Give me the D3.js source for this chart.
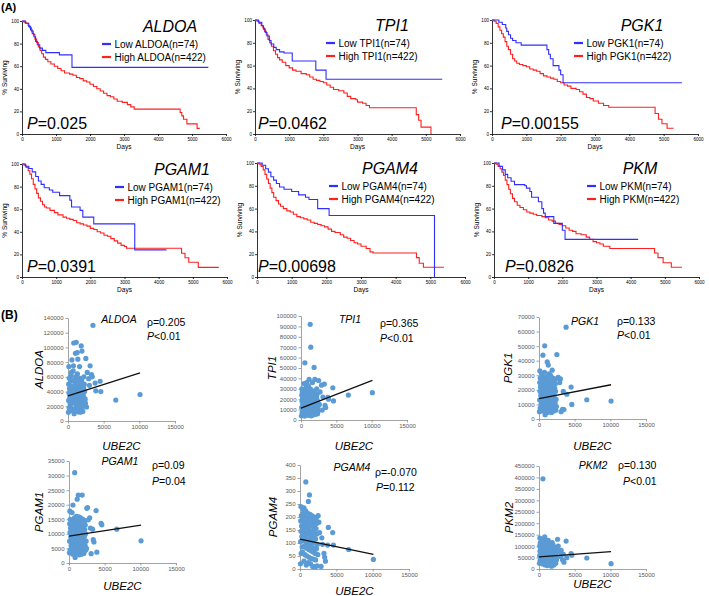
<!DOCTYPE html>
<html><head><meta charset="utf-8">
<script src="https://cdnjs.cloudflare.com/ajax/libs/d3/7.8.5/d3.min.js"></script>
<style>body{margin:0;background:#fff;} svg{display:block;font-family:"Liberation Sans",Arial,sans-serif;}</style>
</head><body><svg id="c" width="709" height="596"></svg>
<script>
// ---------------- DATA: Kaplan-Meier (A) ----------------
const kmGenes = ["ALDOA","TPI1","PGK1","PGAM1","PGAM4","PKM"];
const kmPValues = ["0.025","0.0462","0.00155","0.0391","0.00698","0.0826"];
const kmLowN = 74, kmHighN = 422;
const kmDayTicks = [0,1000,2000,3000,4000,5000,6000];
const kmSurvTicks = [0,20,40,60,80,100];

const lowALDOA = [[0,100],[100,98],[200,95],[250,92],[300,89],[350,86],[400,82],[450,79],[520,76],[600,74],[700,72],[1100,70],[1470,59],[5480,59]];
const highALDOA = [[0,100],[60,99],[120,98],[180,96],[230,94],[280,91],[330,88],[380,84],[430,81],[480,77],[530,74],[580,71],[630,68],[690,66],[760,64],[850,62],[950,60],[1050,58],[1150,56],[1250,54],[1400,53],[1500,52],[1600,50],[1700,49],[1800,47],[1900,46],[2000,44],[2100,42],[2200,40],[2300,38],[2400,36],[2500,34],[2600,33],[2700,31],[2800,29],[2950,28],[3100,26],[3200,24],[3300,22],[4650,19],[4700,16],[4750,13],[4850,9],[5150,5],[5230,5]];

const lowTPI1 = [[0,100],[100,98],[200,95],[250,92],[300,89],[350,86],[420,82],[470,79],[550,76],[620,74],[720,72],[850,71],[1090,64],[1780,56],[2080,48],[5480,48]];
const highTPI1 = [[0,100],[60,99],[120,97],[180,95],[230,93],[280,90],[330,87],[380,83],[430,80],[480,77],[540,73],[600,70],[660,67],[720,65],[800,63],[900,60],[1000,58],[1100,56],[1200,55],[1350,53],[1500,52],[1600,50],[1700,48],[1800,47],[1900,46],[2000,45],[2100,43],[2200,41],[2300,39],[2450,38],[2600,36],[2700,33],[2800,31],[2950,30],[3000,28],[3150,27],[3250,25],[3350,23],[4720,17],[4790,12],[4860,6],[5150,0]];

const lowPGK1 = [[0,100],[200,98],[300,96],[400,93],[430,90],[480,87],[540,84],[600,82],[700,80],[850,78],[1600,74],[1650,70],[1700,66],[1780,60],[1950,56],[2000,52],[2070,45],[5530,45]];
const highPGK1 = [[0,100],[60,99],[120,97],[180,94],[230,91],[280,88],[330,85],[380,81],[430,77],[480,74],[540,70],[600,66],[660,64],[720,62],[800,61],[900,60],[1000,59],[1100,57],[1200,56],[1300,55],[1400,53],[1500,51],[1600,50],[1700,49],[1800,48],[1900,46],[2000,45],[2100,43],[2200,42],[2300,40],[2450,39],[2550,37],[2650,35],[2750,32],[2850,31],[2950,29],[3100,27],[3250,25],[3400,23.5],[4750,18],[4850,13],[4950,9],[5100,5],[5290,5]];

const lowPGAM1 = [[0,100],[100,98],[200,96],[300,93],[400,89],[480,85],[560,82],[650,79],[800,77],[900,75],[1100,72],[1400,68],[1450,62],[1700,59],[1780,53],[2100,47],[3300,24],[4230,24]];
const highPGAM1 = [[0,100],[60,99],[120,97],[180,94],[230,91],[280,87],[330,82],[380,78],[430,74],[480,70],[540,67],[600,64],[660,62],[720,61],[820,59],[950,57],[1050,55],[1200,53],[1300,52],[1400,51],[1500,50],[1600,48],[1700,47],[1800,46],[1900,45],[2000,43],[2100,42],[2200,40],[2300,39],[2400,37],[2500,36],[2600,34],[2700,32],[2800,30],[2900,28],[3000,27],[3060,25.5],[4670,21],[4770,17],[4880,13],[5160,8.5],[5760,8.5]];

const lowPGAM4 = [[0,100],[150,98],[250,95],[330,92],[400,88],[480,85],[560,82],[650,79],[780,77],[1000,75],[1200,72],[1400,70],[1500,68],[1750,60],[2080,54],[5120,0]];
const highPGAM4 = [[0,100],[60,99],[120,97],[180,94],[230,90],[280,86],[330,82],[380,78],[430,74],[480,70],[550,67],[620,64],[680,62],[760,60],[860,58],[960,57],[1050,55],[1150,53],[1250,52],[1350,51],[1450,50],[1550,48],[1650,47],[1750,46],[1850,45],[1950,44],[2050,42],[2150,40],[2250,39],[2400,37],[2500,35],[2600,34],[2700,32],[2800,30],[2900,29],[3000,27],[3150,25],[3260,22],[3350,21],[4600,17],[4680,12],[4800,8.5],[5390,8.5]];

const lowPKM = [[0,100],[150,97],[250,94],[330,90],[400,87],[500,84],[600,81],[900,80],[950,78],[1050,75],[1100,70],[1300,66],[1400,60],[1450,56],[1500,53],[1750,47],[2000,41],[2080,33],[4220,33]];
const highPKM = [[0,100],[60,99],[120,97],[180,95],[230,92],[280,89],[330,85],[380,81],[430,77],[480,73],[540,69],[600,66],[680,63],[760,61],[860,59],[960,57],[1050,56],[1150,55],[1250,54],[1400,53],[1500,52],[1600,50],[1700,49],[1800,47],[1900,46],[2000,45],[2100,43],[2200,41],[2300,40],[2400,38],[2550,37],[2700,35],[2800,33],[2900,31],[3000,30],[3100,29],[3200,27],[3390,25],[4700,21],[4800,17],[4950,12.5],[5190,8.5],[5500,8.5]];

const kmLow = [lowALDOA, lowTPI1, lowPGK1, lowPGAM1, lowPGAM4, lowPKM];
const kmHigh = [highALDOA, highTPI1, highPGK1, highPGAM1, highPGAM4, highPKM];

// ---------------- DATA: correlations (B) ----------------
const scGenes = ["ALDOA","TPI1","PGK1","PGAM1","PGAM4","PKM2"];
const scRho = ["0.205","0.365","0.133","0.09","-0.070","0.130"];
const scP = ["<0.01","<0.01","<0.01","=0.04","=0.112","<0.01"];
const ubeTicks = [0,5000,10000,15000];
const aldoaTicks = [0,20000,40000,60000,80000,100000,120000,140000];
const tpi1Ticks = [0,10000,20000,30000,40000,50000,60000,70000,80000,90000,100000];
const pgk1Ticks = [0,10000,20000,30000,40000,50000,60000,70000];
const pgam1Ticks = [0,5000,10000,15000,20000,25000,30000,35000];
const pgam4Ticks = [0,50,100,150,200,250,300,350,400];
const pkm2Ticks = [0,50000,100000,150000,200000,250000,300000,350000,400000,450000];

// UBE2C expression (shared x for all six panels)
const ubeX = [
120,430,760,1040,1380,1620,1960,2230,
180,470,720,1080,1320,1680,1910,2280,
100,410,790,1010,1360,1700,1990,2200,
210,500,740,1100,1300,1600,1940,2320,
140,380,810,1060,1400,1650,2020,2150,
250,520,700,980,1330,1720,1880,2400,
90,460,830,1120,1420,1580,2050,2260,
300,600,900,1200,1500,1800,2100,2450,
160,350,680,950,1250,1550,1850,2150,
60,540,860,1150,1450,1750,2080,2350,
2600,2700,2900,3000,3100,3300,3400,3500,3800,3900,
4500,4600,6700,10100,550,800,1150,1300,1850,2500];

const aldoaY = [
74000,62000,75000,92000,84000,74000,95000,60000,
58000,66000,68000,60000,64000,58000,55000,50000,
50000,54000,56000,52000,55000,50000,48000,45000,
44000,47000,46000,48000,44000,45000,42000,40000,
38000,40000,41000,42000,39000,38000,37000,35000,
33000,35000,34000,36000,33000,34000,31000,30000,
28000,30000,29000,30000,28000,27000,26000,25000,
23000,25000,24000,22000,21000,22000,20000,24000,
18000,19000,15000,17000,16000,13000,17000,21000,
12000,14000,10000,13000,12500,12000,13000,28000,
19000,66000,57500,48500,75000,63000,60000,130000,51500,41000,
54000,40000,28500,36000,83000,106000,107000,93000,102000,85000];

const tpi1Y = [
30000,35000,32000,33000,70000,36000,39000,30000,
27000,29000,30000,28000,30000,28000,27000,25000,
24000,26000,25000,26000,25000,24000,23000,22000,
21000,22000,23000,22000,21000,21000,20000,19000,
18000,19000,20000,19000,18000,17000,17000,16000,
15000,16000,17000,16000,15000,15000,14000,13000,
12000,13000,14000,13000,12000,12000,11000,11000,
9500,10000,11000,10000,9000,9500,8500,9000,
7000,7500,8000,7000,6500,7000,6000,7500,
4000,3800,5000,4500,4000,5000,5500,6000,
15000,27000,33500,9500,22000,34500,14000,12000,21800,20000,
31000,18300,24000,26300,55000,36000,39000,92000,50600,38000];

const pgk1Y = [
33000,31000,32000,29000,31000,30000,28000,27000,
28000,28500,27000,27500,27000,26000,25000,24000,
25000,25500,24500,25000,24000,23000,22000,21000,
22000,22500,21500,22000,21000,20000,19500,19000,
19000,19500,19000,18500,18000,17000,17000,16000,
16000,16500,16000,15500,15000,14500,14000,13500,
13000,13500,13000,12500,12000,12000,11500,11000,
10000,10500,10000,9500,9000,9500,9000,8500,
7500,8000,7500,7000,6500,6500,6000,7000,
5000,5500,3000,4500,5000,4500,5500,6000,
28000,28500,25000,27500,5000,6600,18900,6500,63000,17000,
21900,10000,13200,12300,43800,50200,39200,37000,33500,44200];

const pgam1Y = [
17800,17300,15500,16000,15800,15500,15000,14500,
15000,14500,14800,14000,14500,13500,13500,13000,
13500,13000,13200,12500,13000,12000,12500,11500,
12000,11500,11800,11000,11500,10500,11000,10000,
10500,10000,10300,9500,10000,9000,9500,9000,
9000,8500,8800,8000,8500,7500,8000,7500,
7500,7000,7300,6500,7000,6200,6500,6000,
6000,5500,5800,5000,5500,4800,5000,5000,
4500,4000,4300,3500,4000,3500,3800,4000,
3500,3000,1900,3200,2800,3000,3300,4500,
19000,14800,15500,12000,3200,11600,8000,7200,18000,3700,
13600,13100,11600,7600,19900,31000,21900,23300,23300,18750];

const pgam4Y = [
240,230,225,215,210,205,200,195,
205,215,200,195,190,185,180,175,
185,190,180,175,170,165,160,155,
165,170,160,155,150,145,140,135,
145,150,140,135,130,125,120,115,
125,130,120,115,110,105,100,95,
105,110,100,95,90,85,80,78,
85,88,80,75,70,65,60,55,
60,65,55,50,45,40,38,35,
20,30,15,25,20,10,8,12,
180,140,10,120,95,60,45,30,92,160,
140,92,75,37,235,335,260,285,200,205];

const pkm2Y = [
135000,130000,120000,125000,110000,100000,105000,95000,
115000,110000,105000,100000,95000,90000,88000,85000,
100000,95000,92000,88000,85000,80000,78000,75000,
88000,85000,82000,78000,75000,72000,70000,68000,
78000,75000,72000,70000,68000,65000,62000,60000,
68000,66000,63000,61000,58000,56000,55000,52000,
58000,56000,54000,52000,50000,48000,46000,45000,
48000,46000,44000,42000,40000,38000,37000,40000,
38000,36000,34000,32000,30000,28000,27000,30000,
25000,22000,18000,15000,20000,12000,18000,25000,
130000,100000,75000,55000,81500,40000,65000,30000,122000,49500,
67000,60000,48000,23300,394000,140000,110000,125000,115000,90000];

const scY = [aldoaY, tpi1Y, pgk1Y, pgam1Y, pgam4Y, pkm2Y];
const scTicks = [aldoaTicks, tpi1Ticks, pgk1Ticks, pgam1Ticks, pgam4Ticks, pkm2Ticks];
// regression line: fitted value at UBE2C = 0 and at UBE2C = 10100
const fitX = [0, 10100];
const fitY = [[34000,65500],[11500,38000],[14000,23500],[9200,13000],[115,56],[53000,76000]];

// ---------------- LAYOUT ----------------
const kmLayout = [
 {x0:22,x1:226,yTop:21,yBot:134,titleX:170,legX:102,pX:27},
 {x0:255,x1:460,yTop:20,yBot:134,titleX:392,legX:326,pX:258},
 {x0:492,x1:698,yTop:20,yBot:134,titleX:642,legX:574,pX:501},
 {x0:22,x1:227,yTop:164,yBot:277,titleX:182,legX:115,pX:27},
 {x0:257,x1:465,yTop:163,yBot:277,titleX:390,legX:329,pX:258},
 {x0:494,x1:699,yTop:163,yBot:277,titleX:640,legX:587,pX:505}
];
const scLayout = [
 {x0:68,x1:175,yTop:318,yBot:421,titleX:119,titleY:323,rhoX:147,rhoY:326,pX:147,pY:340,ylabX:39,xlabY:450},
 {x0:301,x1:407,yTop:316,yBot:420,titleX:350,titleY:323,rhoX:380,rhoY:327,pX:380,pY:342,ylabX:272,xlabY:450},
 {x0:539,x1:646,yTop:317,yBot:419,titleX:585,titleY:325,rhoX:617,rhoY:325,pX:617,pY:339,ylabX:508,xlabY:450},
 {x0:69,x1:176,yTop:461,yBot:563,titleX:120,titleY:465,rhoX:152,rhoY:469,pX:152,pY:485,ylabX:39,xlabY:590},
 {x0:300,x1:409,yTop:465,yBot:569,titleX:352,titleY:471,rhoX:375,rhoY:476,pX:376,pY:491,ylabX:273,xlabY:595},
 {x0:539,x1:646,yTop:466,yBot:569,titleX:593,titleY:469,rhoX:618,rhoY:469,pX:623,pY:485,ylabX:509,xlabY:588}
];

const BLUE = "#2f2fff", RED = "#ff2020", DOT = "#5b9bd5";
const plain = d3.format("d");
const svg = d3.select("#c");

// panel letters
svg.append("text").attr("x",1).attr("y",11).attr("font-size",11).attr("font-weight","bold").text("(A)");
svg.append("text").attr("x",1).attr("y",319).attr("font-size",12).attr("font-weight","bold").text("(B)");

// ---------------- KM panels ----------------
kmGenes.forEach((gene, i) => {
  const L = kmLayout[i];
  const x = d3.scaleLinear().domain([0,6000]).range([L.x0, L.x1]);
  const y = d3.scaleLinear().domain([0,100]).range([L.yBot, L.yTop]);
  const g = svg.append("g");
  const ax = g.append("g").attr("transform",`translate(0,${L.yBot})`)
    .call(d3.axisBottom(x).tickValues(kmDayTicks).tickFormat(plain).tickSize(2).tickSizeOuter(0).tickPadding(1.5));
  const ay = g.append("g").attr("transform",`translate(${L.x0},0)`)
    .call(d3.axisLeft(y).tickValues(kmSurvTicks).tickFormat(plain).tickSize(2).tickSizeOuter(0).tickPadding(1));
  [ax, ay].forEach(a => {
    a.selectAll("path,line").attr("stroke","#000").attr("stroke-width",0.8);
    a.selectAll("text").attr("font-size","4.6px").attr("fill","#000").attr("font-family","Liberation Sans, Arial");
  });
  g.append("text").attr("x",(L.x0+L.x1)/2).attr("y",L.yBot+15).attr("text-anchor","middle")
    .attr("font-size","6.5px").text("Days");
  g.append("text").attr("transform",`translate(${L.x0-15},${(L.yTop+L.yBot)/2}) rotate(-90)`)
    .attr("text-anchor","middle").attr("font-size","6.5px").text("% Surviving");

  const line = d3.line().x(d => x(d[0])).y(d => y(d[1])).curve(d3.curveStepAfter);
  g.append("path").datum(kmHigh[i]).attr("d",line).attr("fill","none").attr("stroke",RED).attr("stroke-width",1.1);
  g.append("path").datum(kmLow[i]).attr("d",line).attr("fill","none").attr("stroke",BLUE).attr("stroke-width",1.1);

  g.append("text").attr("x",L.titleX).attr("y",L.yTop+10.5).attr("text-anchor","middle")
    .attr("font-size","16px").attr("font-style","italic").text(gene);

  const legend = [["Low", BLUE, kmLowN],["High", RED, kmHighN]];
  legend.forEach((lg, k) => {
    const ly = L.yTop + 23 + k*13;
    g.append("line").attr("x1",L.legX).attr("x2",L.legX+9).attr("y1",ly).attr("y2",ly)
      .attr("stroke",lg[1]).attr("stroke-width",2.2);
    g.append("text").attr("x",L.legX+12.5).attr("y",ly).attr("dy","0.36em").attr("font-size","10px")
      .text(`${lg[0]} ${gene}(n=${lg[2]})`);
  });

  const pt = g.append("text").attr("x",L.pX).attr("y",L.yBot-5).attr("font-size","16px");
  pt.append("tspan").attr("font-style","italic").text("P");
  pt.append("tspan").text("=" + kmPValues[i]);
});

// ---------------- Scatter panels ----------------
scGenes.forEach((gene, i) => {
  const L = scLayout[i];
  const ticks = scTicks[i];
  const x = d3.scaleLinear().domain([0,15000]).range([L.x0, L.x1]);
  const y = d3.scaleLinear().domain([0, ticks[ticks.length-1]]).range([L.yBot, L.yTop]);
  const g = svg.append("g");
  const ax = g.append("g").attr("transform",`translate(0,${L.yBot})`)
    .call(d3.axisBottom(x).tickValues(ubeTicks).tickFormat(plain).tickSize(2.5).tickSizeOuter(0).tickPadding(1.5));
  const ay = g.append("g").attr("transform",`translate(${L.x0},0)`)
    .call(d3.axisLeft(y).tickValues(ticks).tickFormat(plain).tickSize(2.5).tickSizeOuter(0).tickPadding(2));
  [ax, ay].forEach(a => {
    a.selectAll("path,line").attr("stroke","#8c8c8c").attr("stroke-width",0.8);
    a.selectAll("text").attr("font-size","6px").attr("fill","#595959").attr("font-family","Liberation Sans, Arial");
  });

  const pts = ubeX.map((v, k) => [v, scY[i][k]]);
  g.append("g").selectAll("circle").data(pts).join("circle")
    .attr("cx", d => x(d[0])).attr("cy", d => y(d[1])).attr("r", 2.6).attr("fill", DOT);

  g.append("line").attr("x1",x(fitX[0])).attr("x2",x(fitX[1]))
    .attr("y1",y(fitY[i][0])).attr("y2",y(fitY[i][1])).attr("stroke","#111").attr("stroke-width",1.3);

  g.append("text").attr("x",L.titleX).attr("y",L.titleY).attr("text-anchor","middle")
    .attr("font-size","10.5px").attr("font-style","italic").text(gene);
  g.append("text").attr("x",L.rhoX).attr("y",L.rhoY).attr("font-size","10.5px").text("ρ=" + scRho[i]);
  const pt = g.append("text").attr("x",L.pX).attr("y",L.pY).attr("font-size","10.5px");
  pt.append("tspan").attr("font-style","italic").text("P");
  pt.append("tspan").text(scP[i]);

  g.append("text").attr("transform",`translate(${L.ylabX},${(L.yTop+L.yBot)/2}) rotate(-90)`)
    .attr("text-anchor","middle").attr("dy","0.35em").attr("font-size","11.5px").attr("font-style","italic").text(gene);
  g.append("text").attr("x",(L.x0+L.x1)/2).attr("y",L.xlabY).attr("text-anchor","middle")
    .attr("font-size","11.5px").attr("font-style","italic").text("UBE2C");
});
</script></body></html>
